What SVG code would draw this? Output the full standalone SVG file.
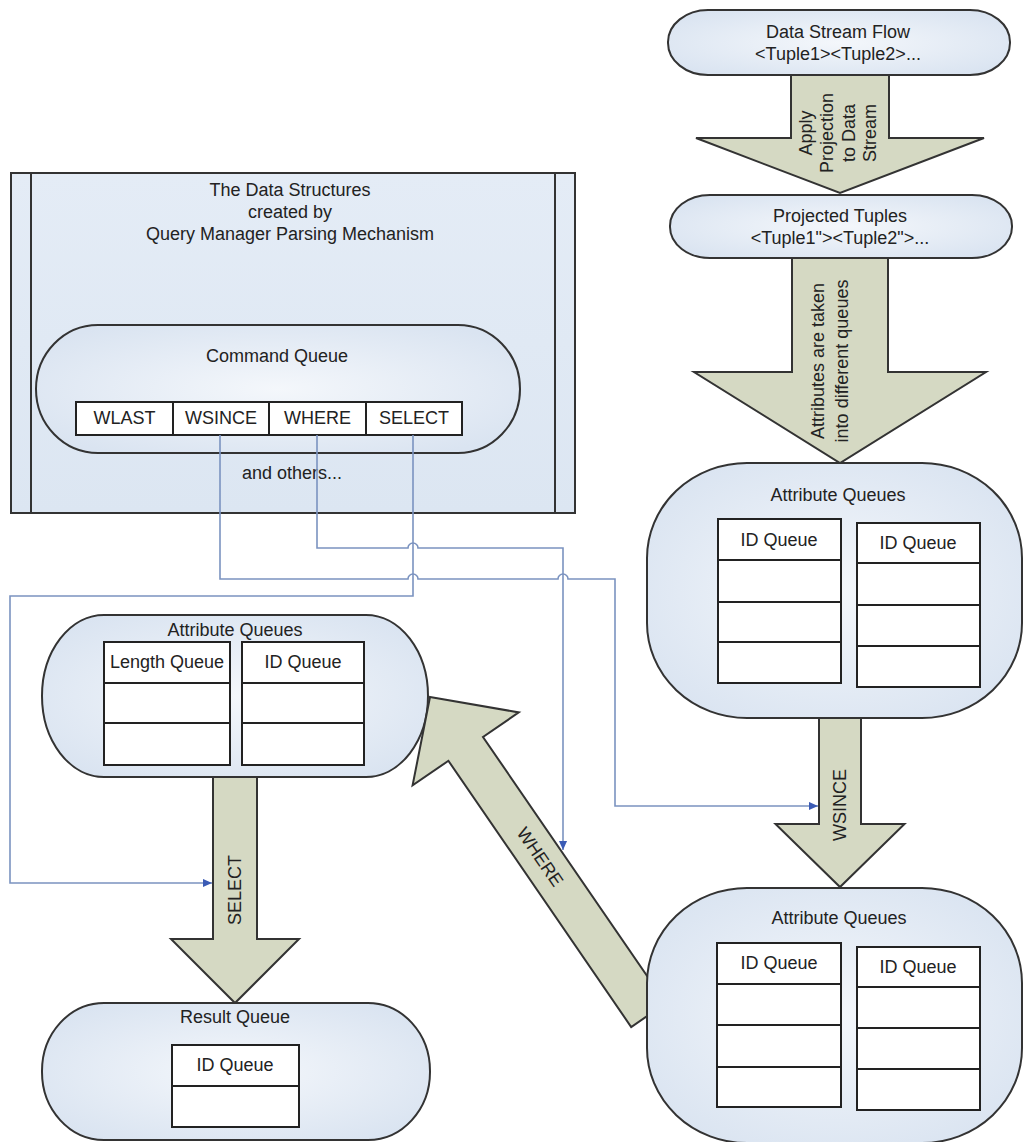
<svg xmlns="http://www.w3.org/2000/svg" width="1027" height="1142" viewBox="0 0 1027 1142">
<defs>
<radialGradient id="pill" cx="50%" cy="50%" r="60%">
<stop offset="0%" stop-color="#f4f7fb"/>
<stop offset="100%" stop-color="#dae4f1"/>
</radialGradient>
<linearGradient id="boxg" x1="0" y1="0" x2="0" y2="1">
<stop offset="0%" stop-color="#e4ecf6"/>
<stop offset="100%" stop-color="#dce6f2"/>
</linearGradient>
<marker id="ah" viewBox="0 0 10 10" refX="10" refY="5" markerWidth="10" markerHeight="9" markerUnits="userSpaceOnUse" orient="auto">
<path d="M0,0.5 L10,5 L0,9.5 z" fill="#3b5bb5"/>
</marker>
</defs>
<style>
text{font-family:"Liberation Sans",Arial,sans-serif;font-size:18px;fill:#222;text-anchor:middle;dominant-baseline:central}
.pill{fill:url(#pill);stroke:#333;stroke-width:2}
.arrow{fill:#d5d9c3;stroke:#333;stroke-width:2;stroke-linejoin:miter}
.cell{fill:#fff;stroke:#222;stroke-width:2}
.row{stroke:#222;stroke-width:2}
.conn{fill:none;stroke:#7b93c0;stroke-width:1.6}
</style>
<rect width="1027" height="1142" fill="#fff"/>

<!-- Data Structures box -->
<g id="data-structures">
<rect x="11" y="173" width="564" height="340" fill="url(#boxg)" stroke="#333" stroke-width="2"/>
<line x1="31" y1="173" x2="31" y2="513" stroke="#333" stroke-width="2"/>
<line x1="555" y1="173" x2="555" y2="513" stroke="#333" stroke-width="2"/>
<text x="290" y="190">The Data Structures</text>
<text x="290" y="212">created by</text>
<text x="290" y="234">Query Manager Parsing Mechanism</text>
<text x="292" y="473">and others...</text>
</g>

<g id="command-queue">
<rect class="pill" x="36" y="325" width="484" height="128" rx="62" ry="64"/>
<text x="277" y="356">Command Queue</text>
<rect class="cell" x="76" y="402" width="97" height="33"/>
<rect class="cell" x="173" y="402" width="96" height="33"/>
<rect class="cell" x="269" y="402" width="97" height="33"/>
<rect class="cell" x="366" y="402" width="96" height="33"/>
<text x="124.5" y="418">WLAST</text>
<text x="221" y="418">WSINCE</text>
<text x="317.5" y="418">WHERE</text>
<text x="414" y="418">SELECT</text>
</g>

<!-- Arrows (block arrows) -->
<g id="arrow-projection">
<polygon class="arrow" points="791,75 889,75 889,138 984,138 840,193 696,138 791,138"/>
<text transform="translate(806,133) rotate(-90)">Apply</text>
<text transform="translate(827,133) rotate(-90)">Projection</text>
<text transform="translate(849,133) rotate(-90)">to Data</text>
<text transform="translate(870,133) rotate(-90)">Stream</text>
</g>

<g id="arrow-attributes">
<polygon class="arrow" points="792,258 888,258 888,372 986,372 840,463 694,372 792,372"/>
<text transform="translate(818,361) rotate(-90)">Attributes are taken</text>
<text transform="translate(842,361) rotate(-90)">into different queues</text>
</g>

<g id="arrow-wsince">
<polygon class="arrow" points="819,718 861,718 861,824 904.5,824 840,887 775.5,824 819,824"/>
<text transform="translate(840,805) rotate(-90)">WSINCE</text>
</g>

<g id="arrow-select">
<polygon class="arrow" points="213,777 257,777 257,939 299,939 235,1003 171,939 213,939"/>
<text transform="translate(235,890) rotate(-90)">SELECT</text>
</g>

<!-- top right pills -->
<g id="data-stream-flow">
<rect class="pill" x="668" y="10" width="342" height="65" rx="40" ry="32"/>
<text x="838" y="32">Data Stream Flow</text>
<text x="838" y="54">&lt;Tuple1&gt;&lt;Tuple2&gt;...</text>
</g>

<g id="projected-tuples">
<rect class="pill" x="670" y="195" width="342" height="63" rx="40" ry="31"/>
<text x="840" y="216">Projected Tuples</text>
<text x="840" y="238">&lt;Tuple1"&gt;&lt;Tuple2"&gt;...</text>
</g>

<g id="attribute-queues-top">
<rect class="pill" x="647" y="463" width="375" height="255" rx="100" ry="95"/>
<text x="838" y="495">Attribute Queues</text>
<rect class="cell" x="718" y="519" width="123" height="164"/>
<line class="row" x1="718" y1="560" x2="841" y2="560"/>
<line class="row" x1="718" y1="602" x2="841" y2="602"/>
<line class="row" x1="718" y1="642" x2="841" y2="642"/>
<text x="779" y="540">ID Queue</text>
<rect class="cell" x="857" y="523" width="123" height="164"/>
<line class="row" x1="857" y1="563" x2="980" y2="563"/>
<line class="row" x1="857" y1="605" x2="980" y2="605"/>
<line class="row" x1="857" y1="646" x2="980" y2="646"/>
<text x="918" y="543">ID Queue</text>
</g>

<g id="attribute-queues-left">
<rect class="pill" x="42" y="615" width="386" height="162" rx="62" ry="81"/>
<text x="235" y="630">Attribute Queues</text>
<rect class="cell" x="104" y="642" width="126" height="123"/>
<line class="row" x1="104" y1="683" x2="230" y2="683"/>
<line class="row" x1="104" y1="723" x2="230" y2="723"/>
<text x="167" y="662">Length Queue</text>
<rect class="cell" x="242" y="642" width="122" height="123"/>
<line class="row" x1="242" y1="683" x2="364" y2="683"/>
<line class="row" x1="242" y1="723" x2="364" y2="723"/>
<text x="303" y="662">ID Queue</text>
</g>

<g id="arrow-where">
<polygon class="arrow" points="430,697 518.8,712.4 483,737 665.8,1003.2 631.2,1027 448.4,760.8 412.6,785.4"/>
<text transform="translate(540,857) rotate(55.5)">WHERE</text>
</g>

<g id="attribute-queues-bottom">
<rect class="pill" x="647" y="888" width="375" height="255" rx="100" ry="95"/>
<text x="839" y="918">Attribute Queues</text>
<rect class="cell" x="717" y="943" width="124" height="164"/>
<line class="row" x1="717" y1="984" x2="841" y2="984"/>
<line class="row" x1="717" y1="1025" x2="841" y2="1025"/>
<line class="row" x1="717" y1="1067" x2="841" y2="1067"/>
<text x="779" y="963">ID Queue</text>
<rect class="cell" x="857" y="947" width="123" height="163"/>
<line class="row" x1="857" y1="987" x2="980" y2="987"/>
<line class="row" x1="857" y1="1028" x2="980" y2="1028"/>
<line class="row" x1="857" y1="1069" x2="980" y2="1069"/>
<text x="918" y="967">ID Queue</text>
</g>

<g id="result-queue">
<rect class="pill" x="42" y="1003" width="388" height="137" rx="62" ry="68"/>
<text x="235" y="1017">Result Queue</text>
<rect class="cell" x="172" y="1045" width="127" height="82"/>
<line class="row" x1="172" y1="1086" x2="299" y2="1086"/>
<text x="235" y="1065">ID Queue</text>
</g>

<!-- Connectors -->
<g id="connectors">
<path class="conn" d="M220,435 V579 H408 A5,5 0 0 1 418,579 H558 A5,5 0 0 1 568,579 H615 V806 H818" marker-end="url(#ah)"/>
<path class="conn" d="M317,435 V548 H408 A5,5 0 0 1 418,548 H563 V850" marker-end="url(#ah)"/>
<path class="conn" d="M413,435 V596 H10 V883 H212" marker-end="url(#ah)"/>
</g>
</svg>
